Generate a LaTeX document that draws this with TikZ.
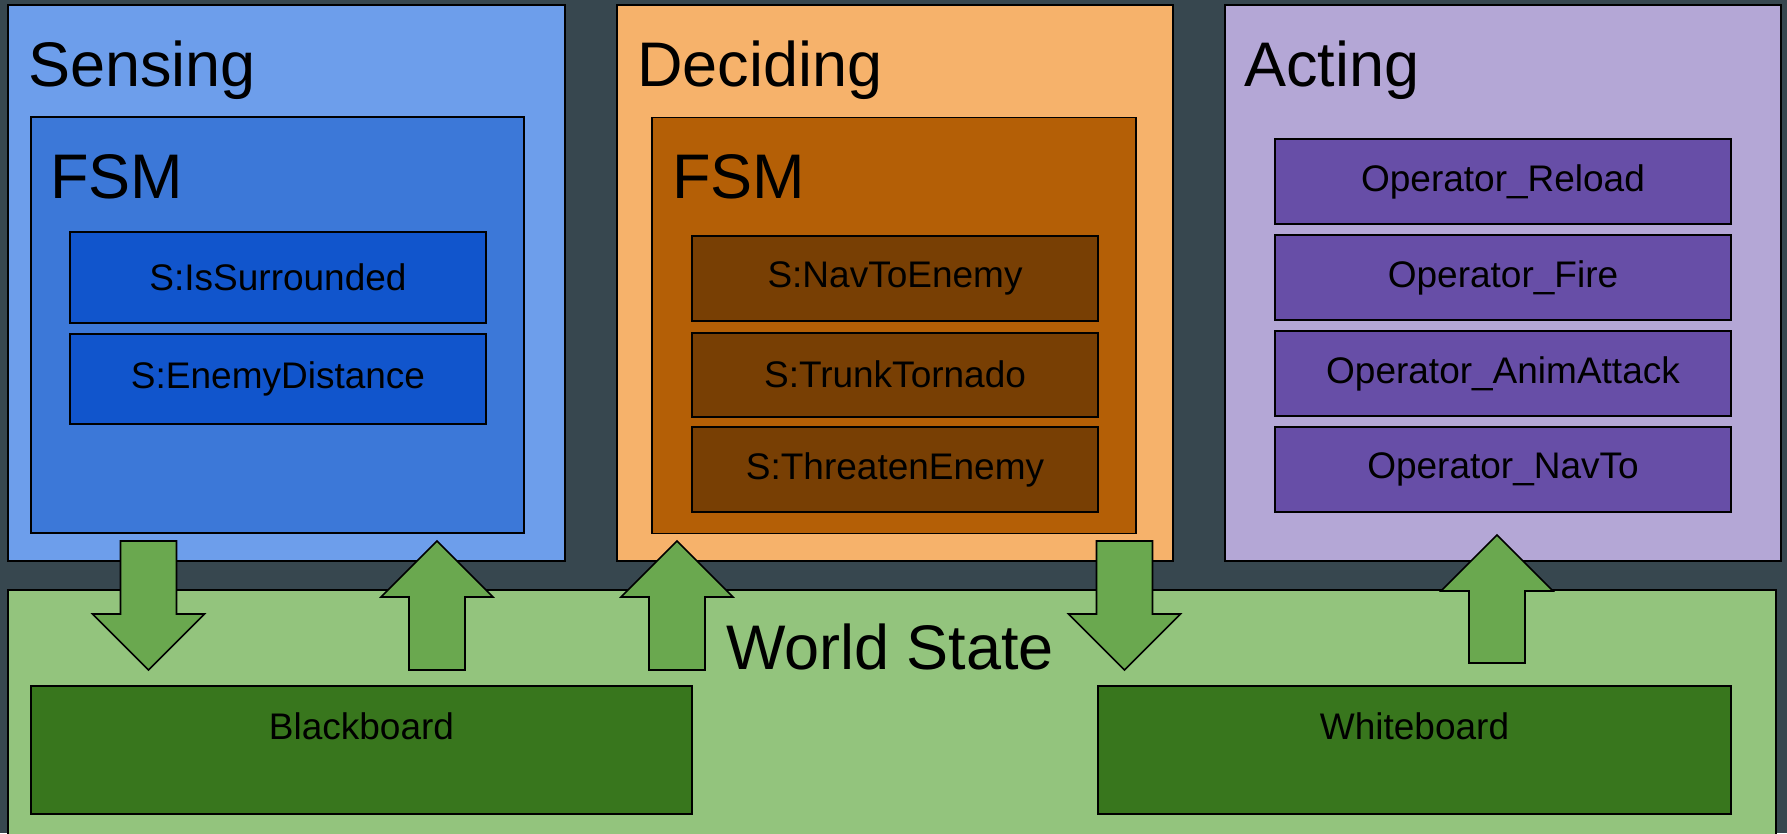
\documentclass[tikz,border=0pt]{standalone}
\usepackage{fontspec}
\setmainfont{Liberation Sans}
\definecolor{bgc}{HTML}{37474F}
\definecolor{senL}{HTML}{6D9EEB}
\definecolor{senM}{HTML}{3C78D8}
\definecolor{senD}{HTML}{1155CC}
\definecolor{decL}{HTML}{F6B26B}
\definecolor{decM}{HTML}{B45F06}
\definecolor{decD}{HTML}{783F04}
\definecolor{actL}{HTML}{B4A7D6}
\definecolor{actD}{HTML}{674EA7}
\definecolor{wldL}{HTML}{93C47D}
\definecolor{wldA}{HTML}{6AA84F}
\definecolor{wldD}{HTML}{38761D}
\tikzset{
  box/.style={draw=black, line width=1.6pt, inner sep=0pt, rectangle},
  big/.style={font=\fontsize{63}{70}\selectfont, inner sep=0pt},
  small/.style={font=\fontsize{37}{42}\selectfont, inner sep=0pt},
  blockarrow/.style={draw=black, line width=1.6pt, fill=wldA, line join=miter},
  downarrow/.pic={\draw[blockarrow] (-28,0) -- (28,0) -- (28,73) -- (56,73) -- (0,129) -- (-56,73) -- (-28,73) -- cycle;},
  uparrow/.pic={\draw[blockarrow] (0,0) -- (56,56) -- (28,56) -- (28,#1) -- (-28,#1) -- (-28,56) -- (-56,56) -- cycle;}
}
\begin{document}
\begin{tikzpicture}[x=1pt,y=-1pt]
\fill[bgc] (0,0) rectangle (1787,833);
\clip (0,0) rectangle (1787,833);
\useasboundingbox (0,0) rectangle (1787,833);

% Sensing
\node[box, fill=senL, minimum width=557pt, minimum height=556pt] (sensing) at (286.5,283) {};
\node[big, anchor=base west] (sensingT) at (28,86) {Sensing};
\node[box, fill=senM, minimum width=493pt, minimum height=416pt] (sfsm) at (277.5,325) {};
\node[big, anchor=base west] (sfsmT) at (50,198) {FSM};
\node[box, fill=senD, small, minimum width=416pt, minimum height=91pt] (s1) at (278,277.5) {S:IsSurrounded};
\node[box, fill=senD, small, minimum width=416pt, minimum height=90pt] (s2) at (278,379) {S:EnemyDistance};

% Deciding
\node[box, fill=decL, minimum width=556pt, minimum height=556pt] (deciding) at (895,283) {};
\node[big, anchor=base west] (decidingT) at (637,86) {Deciding};
\node[box, fill=decM, minimum width=484pt, minimum height=416pt] (dfsm) at (894,325.5) {};
\node[big, anchor=base west] (dfsmT) at (672,198) {FSM};
\node[box, fill=decD, small, minimum width=406pt, minimum height=85pt] (d1) at (895,278.7) {S:NavToEnemy};
\node[box, fill=decD, small, minimum width=406pt, minimum height=84pt] (d2) at (895,374.7) {S:TrunkTornado};
\node[box, fill=decD, small, minimum width=406pt, minimum height=85pt] (d3) at (895,469.5) {S:ThreatenEnemy};

% Acting
\node[box, fill=actL, minimum width=556pt, minimum height=556pt] (acting) at (1503,283) {};
\node[big, anchor=base west] (actingT) at (1244,86) {Acting};
\node[box, fill=actD, small, minimum width=456pt, minimum height=85pt] (a1) at (1503,181.5) {Operator\_Reload};
\node[box, fill=actD, small, minimum width=456pt, minimum height=85pt] (a2) at (1503,277.5) {Operator\_Fire};
\node[box, fill=actD, small, minimum width=456pt, minimum height=85pt] (a3) at (1503,373.5) {Operator\_AnimAttack};
\node[box, fill=actD, small, minimum width=456pt, minimum height=85pt] (a4) at (1503,469.5) {Operator\_NavTo};

% World State
\node[box, fill=wldL, minimum width=1768pt, minimum height=260pt] (world) at (892,720) {};
\node[big, anchor=base] (worldT) at (890,669) {World State};
\node[box, fill=wldD, minimum width=661pt, minimum height=128pt] (black) at (361.5,750) {};
\node[small, anchor=base] (blackT) at (361.5,739) {Blackboard};
\node[box, fill=wldD, minimum width=633pt, minimum height=128pt] (white) at (1414.5,750) {};
\node[small, anchor=base] (whiteT) at (1414.5,739) {Whiteboard};

% Block arrows
\pic at (148.5,541) {downarrow};
\pic at (437,541) {uparrow=129};
\pic at (677,541) {uparrow=129};
\pic at (1124.5,541) {downarrow};
\pic at (1497,535) {uparrow=128};
\end{tikzpicture}
\end{document}
